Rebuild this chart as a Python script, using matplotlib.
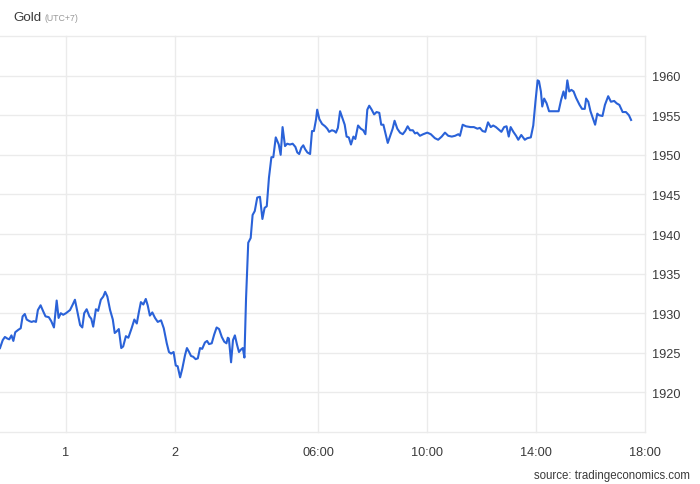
import matplotlib
matplotlib.use("Agg")
import matplotlib.pyplot as plt

# hours relative to 00:00 of the day shown (negative = previous evening)
hours = [
    -5.67, -5.57, -5.49, -5.40, -5.33, -5.25, -5.18, -5.11, -5.00, -4.91,
    -4.84, -4.76, -4.69, -4.59, -4.51, -4.43, -4.35, -4.28, -4.18, -4.08,
    -4.00, -3.88, -3.79, -3.69, -3.59, -3.52, -3.44, -3.35, -3.25, -3.10,
    -3.00, -2.92, -2.83, -2.73, -2.65, -2.58, -2.49, -2.39, -2.32, -2.25,
    -2.15, -2.07, -1.97, -1.88, -1.81, -1.73, -1.63, -1.53, -1.46, -1.39,
    -1.31, -1.22, -1.15, -1.05, -0.96, -0.84, -0.74, -0.65, -0.57, -0.50,
    -0.41, -0.32, -0.25, -0.17, -0.08, 0.02, 0.12, 0.24, 0.34, 0.45,
    0.53, 0.61, 0.70, 0.78, 0.85, 0.94, 1.02, 1.12, 1.19, 1.27,
    1.34, 1.42, 1.51, 1.59, 1.67, 1.75, 1.85, 1.93, 2.00, 2.10,
    2.19, 2.28, 2.37, 2.47, 2.56, 2.64, 2.69, 2.73, 2.81, 2.88,
    2.95, 3.03, 3.10, 3.17, 3.24, 3.30, 3.36, 3.44, 3.53, 3.60,
    3.68, 3.77, 3.87, 3.96, 4.04, 4.12, 4.20, 4.29, 4.36, 4.45,
    4.56, 4.63, 4.70, 4.79, 4.87, 4.97, 5.07, 5.17, 5.24, 5.31,
    5.39, 5.46, 5.53, 5.61, 5.71, 5.78, 5.85, 5.93, 5.97, 6.05,
    6.15, 6.26, 6.34, 6.41, 6.51, 6.60, 6.66, 6.73, 6.81, 6.91,
    6.98, 7.05, 7.13, 7.21, 7.30, 7.37, 7.47, 7.57, 7.66, 7.74,
    7.81, 7.88, 7.97, 8.06, 8.15, 8.25, 8.32, 8.40, 8.47, 8.56,
    8.64, 8.74, 8.81, 8.91, 9.01, 9.11, 9.20, 9.29, 9.38, 9.48,
    9.56, 9.64, 9.74, 9.86, 10.01, 10.14, 10.29, 10.41, 10.54, 10.66,
    10.78, 10.91, 11.03, 11.15, 11.21, 11.31, 11.43, 11.60, 11.72, 11.85,
    11.94, 12.04, 12.14, 12.24, 12.34, 12.43, 12.53, 12.63, 12.73, 12.83,
    12.92, 13.00, 13.07, 13.17, 13.27, 13.35, 13.46, 13.59, 13.68, 13.81,
    13.90, 13.98, 14.06, 14.11, 14.18, 14.23, 14.30, 14.39, 14.48, 14.60,
    14.83, 14.92, 15.01, 15.08, 15.15, 15.22, 15.30, 15.38, 15.47, 15.60,
    15.69, 15.79, 15.84, 15.92, 16.00, 16.09, 16.17, 16.25, 16.31, 16.44,
    16.53, 16.65, 16.75, 16.87, 16.96, 17.06, 17.18, 17.30, 17.41, 17.49,
]

prices = [
    1925.6, 1926.6, 1927.0, 1926.8, 1926.7, 1927.2, 1926.5, 1927.6, 1927.9, 1928.1,
    1929.6, 1929.9, 1929.2, 1929.0, 1928.9, 1929.0, 1928.9, 1930.4, 1931.0, 1930.2,
    1929.6, 1929.5, 1929.0, 1928.2, 1931.6, 1929.4, 1930.0, 1929.8, 1930.0, 1930.4,
    1931.1, 1931.7, 1930.2, 1928.5, 1928.2, 1930.0, 1930.5, 1929.6, 1929.3, 1928.3,
    1930.5, 1930.3, 1931.7, 1932.1, 1932.7, 1932.1, 1930.4, 1929.2, 1927.5, 1927.7,
    1928.0, 1925.6, 1925.8, 1927.1, 1926.9, 1928.1, 1929.2, 1928.7, 1930.2, 1931.4,
    1931.1, 1931.8, 1931.0, 1929.7, 1930.1, 1929.4, 1928.9, 1929.1, 1928.1, 1926.2,
    1925.1, 1924.9, 1925.1, 1923.4, 1923.3, 1921.9, 1923.0, 1924.7, 1925.6, 1925.1,
    1924.6, 1924.5, 1924.2, 1924.3, 1925.6, 1925.5, 1926.3, 1926.5, 1926.1, 1926.2,
    1927.3, 1928.2, 1928.0, 1927.0, 1926.4, 1926.2, 1926.9, 1926.8, 1923.8, 1926.6,
    1927.2, 1926.0, 1925.1, 1925.4, 1925.6, 1924.4, 1931.9, 1938.9, 1939.5, 1942.4,
    1942.9, 1944.6, 1944.7, 1941.9, 1943.3, 1943.5, 1947.1, 1949.7, 1949.7, 1952.2,
    1951.3, 1950.0, 1953.5, 1951.1, 1951.4, 1951.3, 1951.4, 1951.0, 1950.3, 1950.1,
    1950.9, 1951.2, 1950.7, 1950.3, 1950.1, 1953.0, 1953.0, 1954.5, 1955.7, 1954.5,
    1953.9, 1953.6, 1953.3, 1952.9, 1953.1, 1953.0, 1952.8, 1953.4, 1955.5, 1954.5,
    1953.8, 1952.3, 1952.2, 1951.3, 1952.3, 1952.0, 1953.7, 1953.3, 1953.1, 1952.6,
    1955.7, 1956.2, 1955.7, 1955.1, 1955.4, 1955.3, 1953.8, 1953.8, 1952.8, 1951.5,
    1952.3, 1953.3, 1954.3, 1953.3, 1952.8, 1952.6, 1953.0, 1953.6, 1953.1, 1953.1,
    1952.7, 1952.8, 1952.4, 1952.6, 1952.8, 1952.6, 1952.1, 1951.9, 1952.3, 1952.8,
    1952.4, 1952.3, 1952.4, 1952.6, 1952.4, 1953.8, 1953.6, 1953.5, 1953.5, 1953.3,
    1953.4, 1953.0, 1952.9, 1954.1, 1953.5, 1953.7, 1953.5, 1953.2, 1952.9, 1953.5,
    1953.6, 1952.3, 1953.5, 1952.9, 1952.4, 1951.9, 1952.5, 1951.9, 1952.1, 1952.2,
    1953.7, 1956.7, 1959.4, 1959.3, 1958.0, 1956.1, 1957.1, 1956.5, 1955.5, 1955.5,
    1955.5, 1956.9, 1958.0, 1957.1, 1959.4, 1958.0, 1958.2, 1958.0, 1957.2, 1956.3,
    1955.8, 1955.8, 1957.1, 1956.7, 1955.5, 1954.6, 1953.8, 1955.2, 1955.0, 1954.9,
    1956.3, 1957.4, 1956.7, 1956.8, 1956.5, 1956.3, 1955.4, 1955.4, 1955.0, 1954.4,
]

x_tick_pos = [-3.25, 0.75, 6, 10, 14, 18]
x_tick_labels = ["1", "2", "06:00", "10:00", "14:00", "18:00"]
y_grid = [1915, 1920, 1925, 1930, 1935, 1940, 1945, 1950, 1955, 1960, 1965]
y_labels = [1920, 1925, 1930, 1935, 1940, 1945, 1950, 1955, 1960]

grid_col = "#ebebeb"
text_col = "#3a3a3a"
plt.rcParams["font.family"] = ["Liberation Sans", "DejaVu Sans"]

fig = plt.figure(figsize=(7, 4.85), dpi=100)
ax = fig.add_axes([0.0, 0.1072, 0.9214, 0.8165])

for yv in y_grid:
    ax.axhline(yv, color=grid_col, lw=1, zorder=0, clip_on=False)
for xv in x_tick_pos:
    ax.axvline(xv, color=grid_col, lw=1, zorder=0, clip_on=False)

ax.plot(hours, prices, color="#2a62d8", lw=1.5, solid_joinstyle="round", zorder=3)

ax.set_xlim(-5.67, 18)
ax.set_ylim(1915, 1965)

ax.set_xticks(x_tick_pos)
ax.set_xticklabels(x_tick_labels)
ax.set_yticks(y_labels)
ax.set_yticklabels([str(v) for v in y_labels])
ax.yaxis.tick_right()
ax.tick_params(axis="both", length=0, labelsize=9.2, labelcolor=text_col)
ax.tick_params(axis="x", pad=10)
ax.tick_params(axis="y", pad=5)

for s in ax.spines.values():
    s.set_visible(False)

fig.text(0.0186, 0.963, "Gold", fontsize=9.6, color=text_col, va="center")
fig.text(0.0635, 0.961, "(UTC+7)", fontsize=6.3, color="#999999", va="center")
fig.text(0.986, 0.018, "source: tradingeconomics.com", fontsize=8.3,
         color=text_col, ha="right", va="center")

fig.savefig("out.png", dpi=100, facecolor="white")
